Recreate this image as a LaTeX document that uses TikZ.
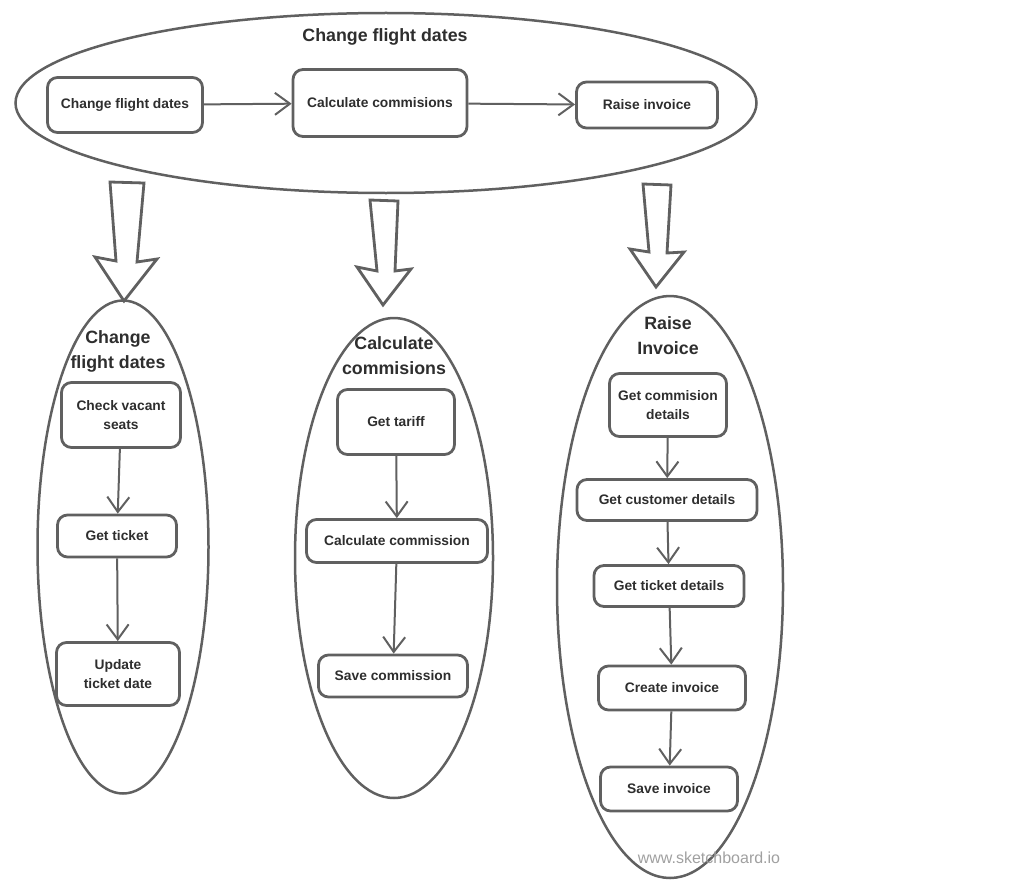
\documentclass[tikz,border=0pt]{standalone}
\usepackage{fontspec}
\setmainfont{Liberation Sans}
\usetikzlibrary{arrows.meta, positioning, shapes.geometric}
\definecolor{sketchline}{HTML}{606060}
\definecolor{sketchtext}{HTML}{2E2E2E}
\definecolor{sketchmark}{HTML}{A0A0A0}

\tikzset{
  group/.style={draw=sketchline,line width=2.5pt,ellipse,inner sep=0pt},
  grouptitle/.style={text=sketchtext,font=\fontsize{17.8}{25}\selectfont\bfseries,align=center},
  taskbox/.style={draw=sketchline,line width=2.8pt,rounded corners=10pt,text=sketchtext,
    font=\fontsize{13.8}{19}\selectfont\bfseries,align=center,inner sep=2pt},
  flow/.style={-{Straight Barb[length=15pt,width=22pt,line width=2pt]},draw=sketchline,line width=2pt},
  bigarrow/.style={draw=sketchline,line width=2.8pt,line join=miter}
}

\begin{document}
\begin{tikzpicture}[x=1pt,y=-1pt]
    \useasboundingbox (0,0) rectangle (1024,880);

    % top level process
    \node[group,minimum width=741pt,minimum height=180pt] (topgroup) at (386,103) {};
    \node[grouptitle] (toptitle) at (385,37) {Change flight dates};
    \node[taskbox,minimum width=155pt,minimum height=55pt] (topchange) at (125,105) {Change flight dates};
    \node[taskbox,minimum width=174pt,minimum height=67pt] (topcalc) at (380,103) {Calculate commisions};
    \node[taskbox,minimum width=141pt,minimum height=46pt] (topraise) at (647,105) {Raise invoice};
    \draw[flow] (topchange) -- (topcalc);
    \draw[flow] (topcalc) -- (topraise);

    % hollow arrows down
    \draw[bigarrow] (110,182) -- (144,183) -- (137,262) -- (157,259) -- (124,301)
      -- (95,257) -- (116,261) -- cycle;
    \draw[bigarrow] (370,200) -- (398,201) -- (395,271) -- (411,269) -- (383,305)
      -- (357,267) -- (377,271) -- cycle;
    \draw[bigarrow] (643,184) -- (671,185) -- (667,253) -- (684,252) -- (656,287)
      -- (630,249) -- (649,252) -- cycle;

    % change flight dates
    \node[group,minimum width=171pt,minimum height=493pt] (changegroup) at (123,547) {};
    \node[grouptitle] (changetitle) at (118,351) {Change\\flight dates};
    \node[taskbox,minimum width=119pt,minimum height=65pt] (vacant) at (121,415) {Check vacant\\seats};
    \node[taskbox,minimum width=119pt,minimum height=42pt] (ticket) at (117,536) {Get ticket};
    \node[taskbox,minimum width=123pt,minimum height=63pt] (update) at (118,674) {Update\\ticket date};
    \draw[flow] (vacant) -- (ticket);
    \draw[flow] (ticket) -- (update);

    % calculate commisions
    \node[group,minimum width=198pt,minimum height=480pt] (calcgroup) at (394,558) {};
    \node[grouptitle] (calctitle) at (394,356) {Calculate\\commisions};
    \node[taskbox,minimum width=117pt,minimum height=65pt] (tariff) at (396,422) {Get tariff};
    \node[taskbox,minimum width=181pt,minimum height=43pt] (calccomm) at (397,541) {Calculate commission};
    \node[taskbox,minimum width=149pt,minimum height=42pt] (savecomm) at (393,676) {Save commission};
    \draw[flow] (tariff) -- (calccomm);
    \draw[flow] (calccomm) -- (savecomm);

    % raise invoice
    \node[group,minimum width=226pt,minimum height=582pt] (raisegroup) at (670,587) {};
    \node[grouptitle] (raisetitle) at (668,336) {Raise\\Invoice};
    \node[taskbox,minimum width=117pt,minimum height=63pt] (commdetails) at (668,405) {Get commision\\details};
    \node[taskbox,minimum width=180pt,minimum height=41pt] (custdetails) at (667,500) {Get customer details};
    \node[taskbox,minimum width=150pt,minimum height=41pt] (ticketdetails) at (669,586) {Get ticket details};
    \node[taskbox,minimum width=147pt,minimum height=44pt] (createinv) at (672,688) {Create invoice};
    \node[taskbox,minimum width=137pt,minimum height=44pt] (saveinv) at (669,789) {Save invoice};
    \draw[flow] (commdetails) -- (custdetails);
    \draw[flow] (custdetails) -- (ticketdetails);
    \draw[flow] (ticketdetails) -- (createinv);
    \draw[flow] (createinv) -- (saveinv);

    \node[text=sketchmark,font=\fontsize{16}{16}\selectfont] (watermark) at (709,858) {www.sketchboard.io};
  \end{tikzpicture}
\end{document}
